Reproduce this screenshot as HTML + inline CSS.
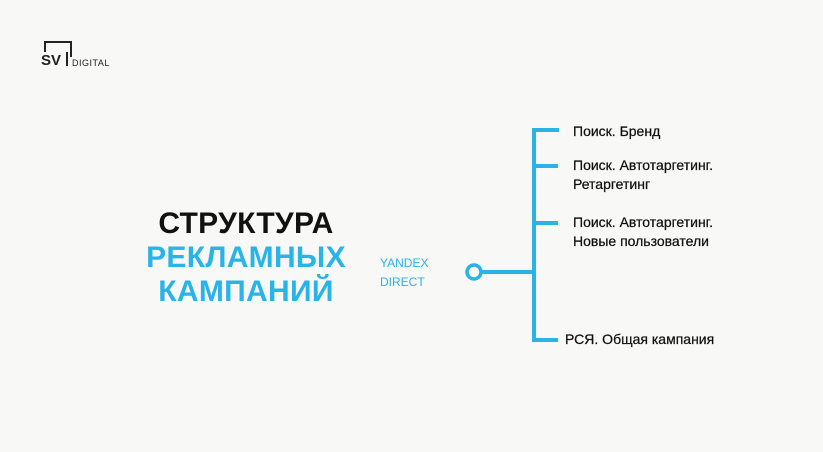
<!DOCTYPE html>
<html><head><meta charset="utf-8"><style>
body{margin:0;width:823px;height:452px;background:#f8f8f7;position:relative;overflow:hidden;font-family:"Liberation Sans",sans-serif}
.t{position:absolute;white-space:nowrap}
.title{left:96px;width:300px;text-align:center;font-weight:900;font-size:30px;letter-spacing:0.3px;line-height:34px}
.item{font-size:14px;color:#111;line-height:19px;-webkit-text-stroke:0.25px #111}
</style></head><body>
<div style="position:absolute;left:44px;top:41px;width:24px;height:14px;border:2px solid #222;border-bottom:none"></div>
<div class="t" style="left:41px;top:52px;font-size:15px;font-weight:900;color:#222;background:#f8f8f7;padding-right:1px">SV</div>
<div class="t" style="left:66px;top:52px;width:2px;height:14px;background:#222"></div>
<div class="t" style="left:72px;top:58px;font-size:9px;color:#222;letter-spacing:0.5px">DIGITAL</div>
<div class="t title" style="top:207px;color:#111">СТРУКТУРА</div>
<div class="t title" style="top:241px;color:#29b3e6">РЕКЛАМНЫХ</div>
<div class="t title" style="top:275px;color:#29b3e6">КАМПАНИЙ</div>
<div class="t" style="left:380px;top:254px;font-size:12px;color:#29b3e6;line-height:19px">YANDEX<br>DIRECT</div>
<svg style="position:absolute;left:0;top:0" width="823" height="452">
<g stroke="#29b3e6" stroke-width="4" fill="none">
<circle cx="474" cy="272" r="7" stroke-width="3.5"/>
<line x1="481" y1="272" x2="534" y2="272"/>
<line x1="534" y1="128" x2="534" y2="342"/>
<line x1="532" y1="130" x2="559" y2="130"/>
<line x1="534" y1="166" x2="558" y2="166"/>
<line x1="534" y1="223" x2="558" y2="223"/>
<line x1="532" y1="340" x2="558" y2="340"/>
</g></svg>
<div class="t item" style="left:573px;top:122px">Поиск. Бренд</div>
<div class="t item" style="left:573px;top:156px">Поиск. Автотаргетинг.<br>Ретаргетинг</div>
<div class="t item" style="left:573px;top:213px">Поиск. Автотаргетинг.<br>Новые пользователи</div>
<div class="t item" style="left:565px;top:330px">РСЯ. Общая кампания</div>
</body></html>
